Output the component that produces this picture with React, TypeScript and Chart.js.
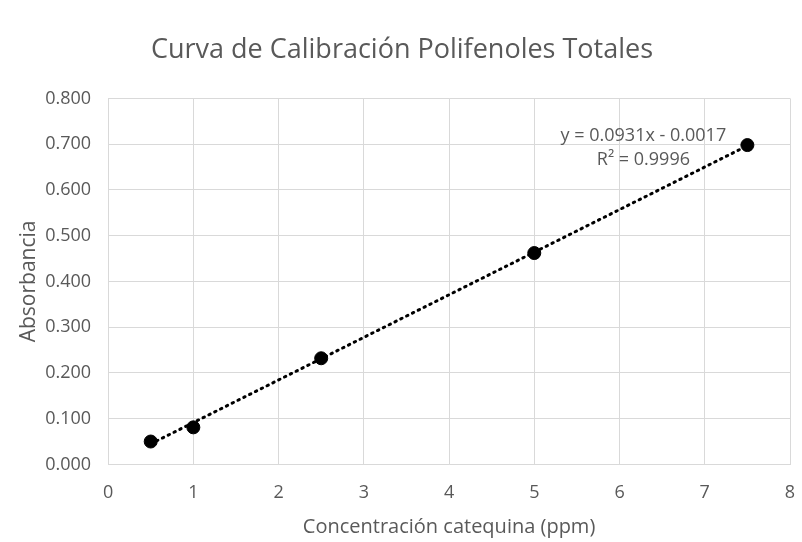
import React, { useEffect, useRef } from "react";
import { Chart, registerables } from "chart.js";

Chart.register(...registerables);

const concentrations = [0.5, 1, 2.5, 5, 7.5];
const absorbances = [0.05, 0.081, 0.232, 0.462, 0.698];
const trendX = [0.5, 7.5];
const trendY = [0.0449, 0.6966];
const xTicks = [0, 1, 2, 3, 4, 5, 6, 7, 8];
const equationLines = ["y = 0.0931x - 0.0017", "R² = 0.9996"];

const FONT = "'Open Sans', 'Noto Sans', sans-serif";
const GRAY = "#595959";

const labelPlugin = {
  id: "trendLabel",
  afterDatasetsDraw(chart: any) {
    const { ctx, scales } = chart;
    const x = scales.x.getPixelForValue(6.28);
    const y = scales.y.getPixelForValue(0.717);
    ctx.save();
    ctx.fillStyle = GRAY;
    ctx.font = `18px ${FONT}`;
    ctx.textAlign = "center";
    ctx.textBaseline = "middle";
    ctx.fillText(equationLines[0], x, y);
    ctx.fillText(equationLines[1], x, y + 24);
    ctx.restore();
  },
};

export default function App() {
  const ref = useRef<HTMLCanvasElement>(null);
  useEffect(() => {
    document.body.style.margin = "0";
    const chart = new Chart(ref.current!, {
      type: "scatter",
      data: {
        datasets: [
          {
            label: "Trend",
            data: trendX.map((x, i) => ({ x, y: trendY[i] })),
            showLine: true,
            borderColor: "#000",
            borderWidth: 3,
            borderDash: [1.5, 5],
            borderCapStyle: "round",
            pointRadius: 0,
            order: 2,
          } as any,
          {
            label: "Datos",
            data: concentrations.map((x, i) => ({ x, y: absorbances[i] })),
            backgroundColor: "#000",
            borderColor: "#000",
            pointRadius: 6.5,
            order: 1,
          },
        ],
      },
      options: {
        animation: false,
        responsive: false,
        maintainAspectRatio: false,
        layout: { padding: { left: 14, right: 24, top: 10, bottom: 3 } },
        plugins: {
          legend: { display: false },
          tooltip: { enabled: false },
          title: {
            display: true,
            text: "Curva de Calibración Polifenoles Totales",
            color: GRAY,
            font: { family: FONT, size: 27, weight: "normal" },
            padding: { top: 24, bottom: 32 },
          },
        },
        scales: {
          x: {
            type: "linear",
            min: 0,
            max: 8,
            afterBuildTicks: (axis: any) => {
              axis.ticks = xTicks.map((v) => ({ value: v }));
            },
            grid: { color: "#d9d9d9", drawTicks: false },
            border: { color: "#d9d9d9" },
            ticks: {
              color: GRAY,
              font: { family: FONT, size: 18 },
              padding: 18,
              maxRotation: 0,
            },
            title: {
              display: true,
              text: "Concentración catequina (ppm)",
              color: GRAY,
              font: { family: FONT, size: 20 },
              padding: { top: -7, bottom: 0 },
            },
          },
          y: {
            min: 0,
            max: 0.8,
            grid: { color: "#d9d9d9", drawTicks: false },
            border: { color: "#d9d9d9" },
            ticks: {
              stepSize: 0.1,
              color: GRAY,
              font: { family: FONT, size: 18 },
              padding: 17,
              callback: (v: any) => Number(v).toFixed(3),
            },
            title: {
              display: true,
              text: "Absorbancia",
              color: GRAY,
              font: { family: FONT, size: 21 },
              padding: { top: 2, bottom: -13 },
            },
          },
        },
      },
      plugins: [labelPlugin],
    });
    return () => chart.destroy();
  }, []);
  return (
    <div style={{ width: 802, height: 542, overflow: "hidden", background: "#fff" }}>
      <canvas ref={ref} width={814} height={542} style={{ display: "block" }} />
    </div>
  );
}
